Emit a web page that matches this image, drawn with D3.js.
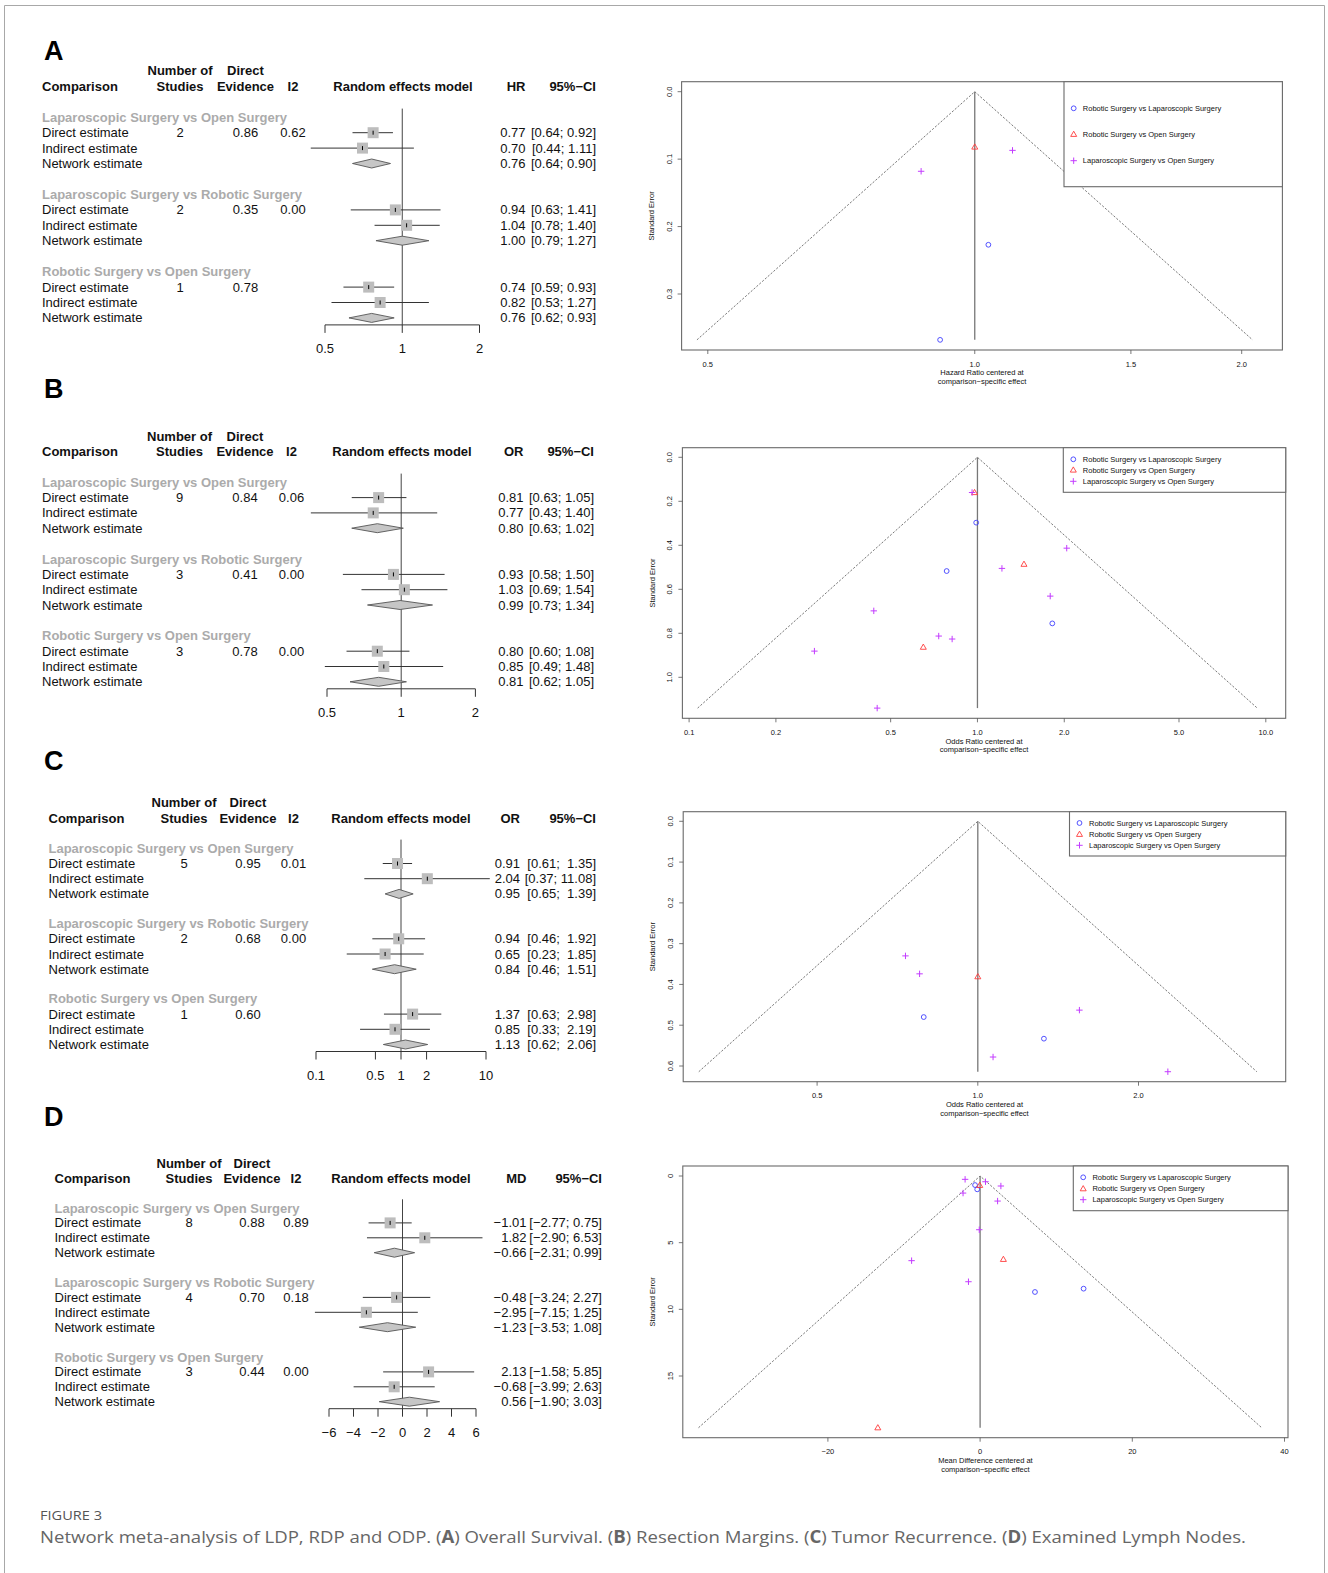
<!DOCTYPE html>
<html><head><meta charset="utf-8">
<script src="https://cdn.jsdelivr.net/npm/d3@7"></script>
<style>
body{margin:0;background:#fff}
text{font-family:"Liberation Sans",Arial,Helvetica,sans-serif;white-space:pre}
text.cap{font-family:"Open Sans","Noto Sans",sans-serif}
</style>
</head><body><svg id="fig" width="1328" height="1573"></svg>
<script>
// ---------------- DATA ----------------
const comparisons = ["Laparoscopic Surgery vs Open Surgery","Laparoscopic Surgery vs Robotic Surgery","Robotic Surgery vs Open Surgery"];
const estimateTypes = ["Direct estimate","Indirect estimate","Network estimate"];
const funnelSeries = ["Robotic Surgery vs Laparoscopic Surgery","Robotic Surgery vs Open Surgery","Laparoscopic Surgery vs Open Surgery"];

// A: Overall survival (HR)
const osStudies = [2, 2, 1];
const osEvidence = [0.86, 0.35, 0.78];
const osI2 = [0.62, 0.00, null];
const osEst   = [[0.77,0.70,0.76],[0.94,1.04,1.00],[0.74,0.82,0.76]];
const osLower = [[0.64,0.44,0.64],[0.63,0.78,0.79],[0.59,0.53,0.62]];
const osUpper = [[0.92,1.11,0.90],[1.41,1.40,1.27],[0.93,1.27,0.93]];
const osTicks = [0.5, 1, 2];

// B: Resection margins (OR)
const rmStudies = [9, 3, 3];
const rmEvidence = [0.84, 0.41, 0.78];
const rmI2 = [0.06, 0.00, 0.00];
const rmEst   = [[0.81,0.77,0.80],[0.93,1.03,0.99],[0.80,0.85,0.81]];
const rmLower = [[0.63,0.43,0.63],[0.58,0.69,0.73],[0.60,0.49,0.62]];
const rmUpper = [[1.05,1.40,1.02],[1.50,1.54,1.34],[1.08,1.48,1.05]];
const rmTicks = [0.5, 1, 2];

// C: Tumor recurrence (OR)
const trStudies = [5, 2, 1];
const trEvidence = [0.95, 0.68, 0.60];
const trI2 = [0.01, 0.00, null];
const trEst   = [[0.91,2.04,0.95],[0.94,0.65,0.84],[1.37,0.85,1.13]];
const trLower = [[0.61,0.37,0.65],[0.46,0.23,0.46],[0.63,0.33,0.62]];
const trUpper = [[1.35,11.08,1.39],[1.92,1.85,1.51],[2.98,2.19,2.06]];
const trTicks = [0.1, 0.5, 1, 2, 10];

// D: Examined lymph nodes (MD)
const lnStudies = [8, 4, 3];
const lnEvidence = [0.88, 0.70, 0.44];
const lnI2 = [0.89, 0.18, 0.00];
const lnEst   = [[-1.01,1.82,-0.66],[-0.48,-2.95,-1.23],[2.13,-0.68,0.56]];
const lnLower = [[-2.77,-2.90,-2.31],[-3.24,-7.15,-3.53],[-1.58,-3.99,-1.90]];
const lnUpper = [[0.75,6.53,0.99],[2.27,1.25,1.08],[5.85,2.63,3.03]];
const lnTicks = [-6, -4, -2, 0, 2, 4, 6];

// Funnel plots: [effect centered at comparison-specific effect, standard error]
const fA_RvL = [[0.914,0.368],[1.036,0.227]];
const fA_RvO = [[1.0,0.082]];
const fA_LvO = [[1.103,0.087],[0.870,0.118]];
const fA_xTicks = [0.5, 1.0, 1.5, 2.0];
const fA_yTicks = [0.0, 0.1, 0.2, 0.3];

const fB_RvL = [[0.990,0.297],[0.782,0.517],[1.818,0.755]];
const fB_RvO = [[0.977,0.160],[1.45,0.486],[0.649,0.863]];
const fB_LvO = [[0.958,0.160],[2.04,0.413],[1.216,0.505],[1.788,0.631],[0.437,0.698],[0.734,0.8125],[0.817,0.826],[0.272,0.881],[0.449,1.14]];
const fB_xTicks = [0.1, 0.2, 0.5, 1.0, 2.0, 5.0, 10.0];
const fB_yTicks = [0.0, 0.2, 0.4, 0.6, 0.8, 1.0];

const fC_RvL = [[0.792,0.480],[1.33,0.533]];
const fC_RvO = [[1.0,0.381]];
const fC_LvO = [[0.732,0.330],[0.778,0.374],[1.55,0.463],[1.068,0.578],[2.27,0.614]];
const fC_xTicks = [0.5, 1.0, 2.0];
const fC_yTicks = [0.0, 0.1, 0.2, 0.3, 0.4, 0.5, 0.6];

const fD_RvL = [[-0.66,0.68],[-0.38,1.0],[7.21,8.7],[13.6,8.45]];
const fD_RvO = [[-0.05,0.7],[3.06,6.25],[-13.44,18.88]];
const fD_LvO = [[-1.97,0.25],[0.71,0.43],[2.73,0.75],[-2.24,1.28],[2.3,1.88],[-0.11,4.03],[-9.0,6.35],[-1.53,7.93]];
const fD_xTicks = [-20, 0, 20, 40];
const fD_yTicks = [0, 5, 10, 15];

// ---------------- DRAW ----------------
const svg = d3.select("#fig");
svg.append("rect").attr("width",1328).attr("height",1573).attr("fill","#fff");
// outer frame
svg.append("path").attr("d","M4.5,1580V5.5H1324.5V1580").attr("fill","none").attr("stroke","#a8a8a8").attr("stroke-width",1);

const f2 = d3.format(".2f");
const tickFmt = d3.format("~g");

function txt(g, x, y, s, opt={}) {
  return g.append("text").attr("x",x).attr("y",y).attr("dy","0.35em")
    .attr("font-size",opt.size||13).attr("font-weight",opt.bold?"bold":"normal")
    .attr("text-anchor",opt.anchor||"start").attr("fill",opt.fill||"#111").text(s);
}

function forest(c) {
  const g = svg.append("g");
  const x = c.log ? d3.scaleLog().domain([c.ticks[0], c.ticks[c.ticks.length-1]]).range(c.range)
                  : d3.scaleLinear().domain([c.ticks[0], c.ticks[c.ticks.length-1]]).range(c.range);
  const ref = c.log ? 1 : 0;
  txt(g, 44, c.letterY, c.letter, {size:27, bold:true, fill:"#000"});
  const h1 = c.headY, h2 = c.headY + 15.3;
  txt(g, c.xStud, h1, "Number of", {bold:true, anchor:"middle"});
  txt(g, c.xStud, h2, "Studies", {bold:true, anchor:"middle"});
  txt(g, c.xEvid, h1, "Direct", {bold:true, anchor:"middle"});
  txt(g, c.xEvid, h2, "Evidence", {bold:true, anchor:"middle"});
  txt(g, c.xComp, h2, "Comparison", {bold:true});
  txt(g, c.xI2, h2, "I2", {bold:true, anchor:"middle"});
  txt(g, c.xRem, h2, "Random effects model", {bold:true, anchor:"middle"});
  txt(g, c.xEff, h2, c.measure, {bold:true, anchor:"end"});
  txt(g, c.xCI, h2, "95%\u2212CI", {bold:true, anchor:"end"});

  const allHi = c.hi.flat().map(f2);
  const maxLen = d3.max(allHi, s => s.length);
  const lastRowY = c.groupY + 2*c.groupGap + 3*c.rowGap;
  const axisY = lastRowY + 7;
  g.append("line").attr("x1",x(ref)).attr("x2",x(ref)).attr("y1",c.groupY-8.7).attr("y2",axisY)
    .attr("stroke","#444").attr("stroke-width",1);

  comparisons.forEach((cmp,i) => {
    const gy = c.groupY + i*c.groupGap;
    txt(g, c.xComp, gy, cmp, {bold:true, fill:"#ababab"});
    estimateTypes.forEach((t,j) => {
      const y = gy + (j+1)*c.rowGap;
      txt(g, c.xComp, y, t);
      if (j===0) {
        txt(g, c.xStud, y, String(c.studies[i]), {anchor:"middle"});
        txt(g, c.xEvid, y, f2(c.evidence[i]), {anchor:"middle"});
        if (c.i2[i] !== null) txt(g, c.xI2, y, f2(c.i2[i]), {anchor:"middle"});
      }
      const e = c.est[i][j], lo = c.lo[i][j], hi = c.hi[i][j];
      const hs = f2(hi);
      txt(g, c.xEff, y, f2(e), {anchor:"end"});
      txt(g, c.xCI, y, "[" + f2(lo) + "; " + " ".repeat(maxLen - hs.length) + hs + "]", {anchor:"end"});
      if (j < 2) {
        g.append("line").attr("x1",x(lo)).attr("x2",x(hi)).attr("y1",y).attr("y2",y)
          .attr("stroke","#333").attr("stroke-width",1);
        const s = 11;
        g.append("rect").attr("x",x(e)-s/2).attr("y",y-s/2).attr("width",s).attr("height",s)
          .attr("fill","#bdbdbd");
        g.append("line").attr("x1",x(e)).attr("x2",x(e)).attr("y1",y-2).attr("y2",y+2)
          .attr("stroke","#000").attr("stroke-width",1);
      } else {
        const h = 4.5;
        g.append("path").attr("d",`M${x(lo)},${y}L${x(e)},${y-h}L${x(hi)},${y}L${x(e)},${y+h}Z`)
          .attr("fill","#c6c6c6").attr("stroke","#555").attr("stroke-width",0.9);
      }
    });
  });
  g.append("line").attr("x1",x(c.ticks[0])).attr("x2",x(c.ticks[c.ticks.length-1]))
    .attr("y1",axisY).attr("y2",axisY).attr("stroke","#333");
  c.ticks.forEach(t => {
    g.append("line").attr("x1",x(t)).attr("x2",x(t)).attr("y1",axisY).attr("y2",axisY+8).attr("stroke","#333");
    txt(g, x(t), axisY+24, tickFmt(t), {anchor:"middle"});
  });
}

forest({letter:"A", measure:"HR", log:true, studies:osStudies, evidence:osEvidence, i2:osI2, est:osEst, lo:osLower, hi:osUpper, ticks:osTicks,
  range:[325,479.5], letterY:51, headY:70.7, groupY:117.3, groupGap:77.2, rowGap:15.4,
  xComp:42, xStud:180, xEvid:245.5, xI2:293, xRem:403, xEff:525.5, xCI:596});
forest({letter:"B", measure:"OR", log:true, studies:rmStudies, evidence:rmEvidence, i2:rmI2, est:rmEst, lo:rmLower, hi:rmUpper, ticks:rmTicks,
  range:[327,475.4], letterY:389, headY:436, groupY:482.3, groupGap:76.8, rowGap:15.3,
  xComp:42, xStud:179.5, xEvid:245, xI2:291.5, xRem:402, xEff:523.5, xCI:594});
forest({letter:"C", measure:"OR", log:true, studies:trStudies, evidence:trEvidence, i2:trI2, est:trEst, lo:trLower, hi:trUpper, ticks:trTicks,
  range:[316,486], letterY:761, headY:802.7, groupY:848.3, groupGap:75.3, rowGap:15.2,
  xComp:48.5, xStud:184, xEvid:248, xI2:293.5, xRem:401, xEff:520, xCI:596});
forest({letter:"D", measure:"MD", log:false, studies:lnStudies, evidence:lnEvidence, i2:lnI2, est:lnEst, lo:lnLower, hi:lnUpper, ticks:lnTicks,
  range:[329,476], letterY:1117, headY:1163.3, groupY:1208, groupGap:74.5, rowGap:14.9,
  xComp:54.5, xStud:189, xEvid:252, xI2:296, xRem:401, xEff:526.5, xCI:602});

// ---------- funnels ----------
const COLS = ["#3f3fff", "#ff3b3b", "#c33cff"];
function sym(g, k, x, y) {
  if (k===0) g.append("circle").attr("cx",x).attr("cy",y).attr("r",2.4).attr("fill","none").attr("stroke",COLS[0]).attr("stroke-width",0.9);
  else if (k===1) g.append("path").attr("d",`M${x},${y-3.1}L${x+3},${y+2.1}L${x-3},${y+2.1}Z`).attr("fill","none").attr("stroke",COLS[1]).attr("stroke-width",0.9);
  else g.append("path").attr("d",`M${x-3.2},${y}H${x+3.2}M${x},${y-3.2}V${y+3.2}`).attr("fill","none").attr("stroke",COLS[2]).attr("stroke-width",1);
}
function funnel(c) {
  const g = svg.append("g");
  const x = c.log ? d3.scaleLog().domain(c.xAnchor).range(c.xPix) : d3.scaleLinear().domain(c.xAnchor).range(c.xPix);
  const y = d3.scaleLinear().domain(c.yAnchor).range(c.yPix);
  const [L,T,R,B] = c.box;
  const fs = 7.5;
  const ref = c.log ? 1 : 0;
  const lo = c.log ? Math.exp(-1.96*c.seMax) : -1.96*c.seMax;
  const hi = c.log ? Math.exp(1.96*c.seMax) : 1.96*c.seMax;
  g.append("path").attr("d",`M${x(lo)},${y(c.seMax)}L${x(ref)},${y(0)}L${x(hi)},${y(c.seMax)}`)
    .attr("fill","none").attr("stroke","#555").attr("stroke-width",0.8).attr("stroke-dasharray","2.2,1.6");
  g.append("line").attr("x1",x(ref)).attr("x2",x(ref)).attr("y1",y(0)).attr("y2",y(c.seMax))
    .attr("stroke","#777").attr("stroke-width",1.3);
  c.series.forEach((pts,k) => pts.forEach(p => sym(g, k, x(p[0]), y(p[1]))));
  g.append("rect").attr("x",L).attr("y",T).attr("width",R-L).attr("height",B-T)
    .attr("fill","none").attr("stroke","#6a6a6a").attr("stroke-width",1.1);
  c.xTicks.forEach(t => {
    g.append("line").attr("x1",x(t)).attr("x2",x(t)).attr("y1",B).attr("y2",B+4).attr("stroke","#555").attr("stroke-width",0.8);
    txt(g, x(t), B+14, c.xFmt(t), {size:fs, anchor:"middle"});
  });
  txt(g, (L+R)/2, B+22.7, c.xLab, {size:fs, anchor:"middle"});
  txt(g, (L+R)/2, B+31.3, "comparison\u2212specific effect", {size:fs, anchor:"middle"});
  c.yTicks.forEach(t => {
    g.append("line").attr("x1",L).attr("x2",L-4).attr("y1",y(t)).attr("y2",y(t)).attr("stroke","#555").attr("stroke-width",0.8);
    g.append("text").attr("transform",`translate(${L-12.6},${y(t)}) rotate(-90)`).attr("dy","0.35em")
      .attr("font-size",fs).attr("text-anchor","middle").attr("fill","#111").text(c.yFmt(t));
  });
  g.append("text").attr("transform",`translate(${L-30.5},${(T+B)/2}) rotate(-90)`).attr("dy","0.35em")
    .attr("font-size",fs).attr("text-anchor","middle").attr("fill","#111").text("Standard Error");
  g.append("rect").attr("x",c.leg.x).attr("y",T).attr("width",R-c.leg.x).attr("height",c.leg.bottom-T)
    .attr("fill","#fff").attr("stroke","#6a6a6a").attr("stroke-width",1.1);
  funnelSeries.forEach((s,k) => {
    sym(g, k, c.leg.sym, c.leg.rows[k]);
    txt(g, c.leg.text, c.leg.rows[k], s, {size:fs});
  });
}
const fmt1 = d3.format(".1f");
funnel({log:true, xAnchor:[0.5,2], xPix:[707.8,1241.7], yAnchor:[0,0.3], yPix:[91.7,294], box:[681.6,81.7,1282.4,350],
  seMax:0.368, series:[fA_RvL,fA_RvO,fA_LvO], xTicks:fA_xTicks, yTicks:fA_yTicks, xFmt:fmt1, yFmt:fmt1,
  xLab:"Hazard Ratio centered at", leg:{x:1064,bottom:186.7,sym:1073.7,text:1082.8,rows:[108.3,134.3,160.7]}});
funnel({log:true, xAnchor:[0.1,10], xPix:[689.1,1265.8], yAnchor:[0,1], yPix:[457.3,677.3], box:[682.4,447.7,1285.7,718.3],
  seMax:1.14, series:[fB_RvL,fB_RvO,fB_LvO], xTicks:fB_xTicks, yTicks:fB_yTicks, xFmt:fmt1, yFmt:fmt1,
  xLab:"Odds Ratio centered at", leg:{x:1063.3,bottom:492.3,sym:1073.3,text:1082.8,rows:[459.3,470,481.3]}});
funnel({log:true, xAnchor:[0.5,2], xPix:[817.1,1138.5], yAnchor:[0,0.6], yPix:[821.3,1066], box:[683.2,811.7,1285.7,1081.7],
  seMax:0.614, series:[fC_RvL,fC_RvO,fC_LvO], xTicks:fC_xTicks, yTicks:fC_yTicks, xFmt:fmt1, yFmt:fmt1,
  xLab:"Odds Ratio centered at", leg:{x:1069.5,bottom:856,sym:1079.5,text:1089,rows:[823,834.3,845.3]}});
funnel({log:false, xAnchor:[-20,40], xPix:[827.9,1284.5], yAnchor:[0,15], yPix:[1176,1376], box:[682.8,1166,1288,1437.7],
  seMax:18.88, series:[fD_RvL,fD_RvO,fD_LvO], xTicks:fD_xTicks, yTicks:fD_yTicks, xFmt:d3.format("d"), yFmt:d3.format("d"),
  xLab:"Mean Difference centered at", leg:{x:1073.3,bottom:1210.7,sym:1083.2,text:1092.4,rows:[1177.3,1188.7,1199.7]}});

// ---------- caption ----------
svg.append("text").attr("class","cap").attr("x",40).attr("y",1515).attr("dy","0.35em").attr("font-size",13)
  .attr("fill","#555").attr("textLength",62).attr("lengthAdjust","spacingAndGlyphs").text("FIGURE 3");
const cap = svg.append("text").attr("class","cap").attr("x",40).attr("y",1537).attr("dy","0.35em").attr("font-size",17)
  .attr("fill","#666").attr("textLength",1206).attr("lengthAdjust","spacingAndGlyphs");
const capParts = [["Network meta-analysis of LDP, RDP and ODP. (",false],["A",true],[") Overall Survival. (",false],["B",true],[") Resection Margins. (",false],["C",true],[") Tumor Recurrence. (",false],["D",true],[") Examined Lymph Nodes.",false]];
capParts.forEach(p => cap.append("tspan").attr("font-weight",p[1]?"bold":"normal").text(p[0]));
</script></body></html>
